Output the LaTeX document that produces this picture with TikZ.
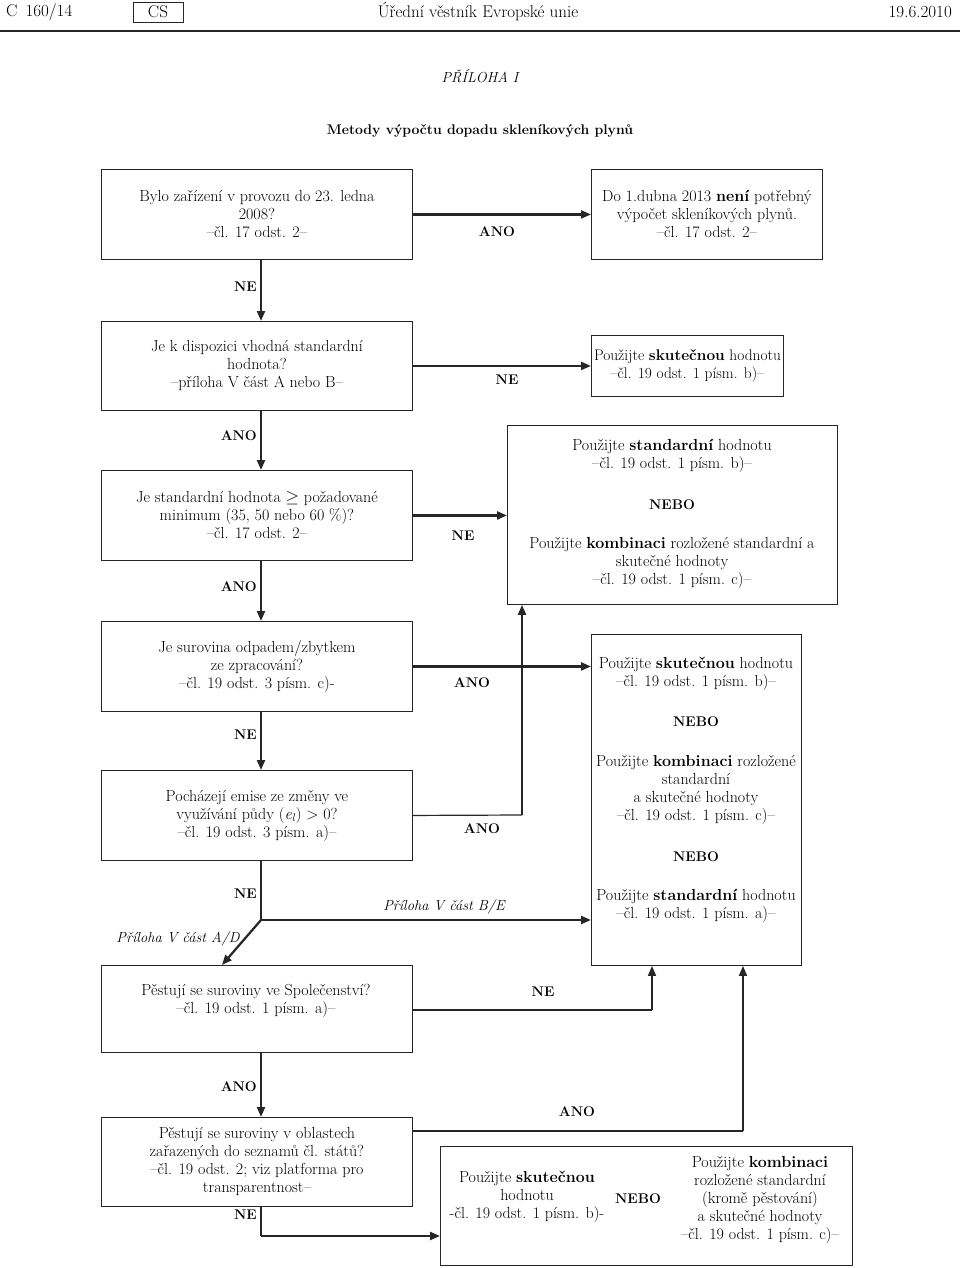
\documentclass[tikz,border=0pt]{standalone}
\usepackage{fontspec}
\usetikzlibrary{arrows.meta}
\newcommand{\boxfnt}{\fontsize{16}{18}\selectfont}
\newcommand{\smbfnt}{\fontsize{15.4}{18}\selectfont}
\newcommand{\lblfnt}{\fontsize{14}{16}\selectfont\bfseries}
\newcommand{\itfnt}{\fontsize{14.5}{16}\selectfont\itshape}
\newcommand{\hdrfnt}{\fontsize{17}{18}\selectfont}
\newcommand{\anxfnt}{\fontsize{14.5}{18}\selectfont\itshape}
\newcommand{\ttlfnt}{\fontsize{14}{18}\selectfont\bfseries}
\begin{document}
\begin{tikzpicture}[x=1pt,y=-1pt,
 box/.style={draw=black!85, line width=0.9pt, anchor=north west, inner sep=0pt, align=center, font=\boxfnt},
 txt/.style={align=center, font=\boxfnt, inner sep=0pt},
 lbl/.style={font=\lblfnt, inner sep=0pt},
 itl/.style={font=\itfnt, inner sep=0pt},
 main/.style={draw=black!85, line width=2.2pt, -{Triangle[length=10pt,width=8pt]}},
 thinl/.style={draw=black!85, line width=1.2pt},
 thinarr/.style={draw=black!85, line width=1.6pt, -{Triangle[length=10pt,width=8pt]}},
]
\useasboundingbox (0,0) rectangle (960,1268);
\fill[white] (0,0) rectangle (960,1268);

% header
\node[anchor=west, font=\hdrfnt, inner sep=0pt] (h1) at (6,12) {C\, 160/14};
\node[draw=black!85, line width=0.8pt, minimum width=50pt, minimum height=20pt, inner sep=0pt, font=\hdrfnt] (h2) at (158,12) {CS};
\node[font=\hdrfnt, inner sep=0pt] (h3) at (478,12) {Úřední věstník Evropské unie};
\node[anchor=east, font=\hdrfnt, inner sep=0pt] (h4) at (952,12) {19.6.2010};
\draw[line width=2pt, black!85] (0,31) -- (960,31);
\node[font=\anxfnt, inner sep=0pt] (t1) at (480,76) {PŘÍLOHA I};
\node[font=\ttlfnt, inner sep=0pt] (t2) at (480,131) {Metody výpočtu dopadu skleníkových plynů};

% boxes
\node[box, minimum width=311pt, minimum height=90pt] (b1) at (101,169) {Bylo zařízení v provozu do 23. ledna\\2008?\\–čl. 17 odst. 2–};
\node[box, minimum width=231pt, minimum height=90pt] (b2) at (591,169) {Do 1.dubna 2013 \textbf{není} potřebný\\výpočet skleníkových plynů.\\–čl. 17 odst. 2–};
\node[box, minimum width=311pt, minimum height=89pt] (b3) at (101,321) {Je k dispozici vhodná standardní\\hodnota?\\–příloha V část A nebo B–};
\node[box, font=\smbfnt, minimum width=192pt, minimum height=61pt] (b4) at (591,335) {Použijte \textbf{skutečnou} hodnotu\\–čl. 19 odst. 1 písm. b)–};
\node[box, minimum width=311pt, minimum height=90pt] (b5) at (101,470) {Je standardní hodnota $\geq$ požadované\\minimum (35, 50 nebo 60 \%)?\\–čl. 17 odst. 2–};
\node[box, minimum width=330pt, minimum height=179pt] (b6) at (507,425) {};
\node[txt] (b6a) at (672,456) {Použijte \textbf{standardní} hodnotu\\–čl. 19 odst. 1 písm. b)–};
\node[txt, font=\lblfnt] (b6b) at (672,505) {NEBO};
\node[txt] (b6c) at (672,563) {Použijte \textbf{kombinaci} rozložené standardní a\\skutečné hodnoty\\–čl. 19 odst. 1 písm. c)–};
\node[box, minimum width=311pt, minimum height=90pt] (b7) at (101,621) {Je surovina odpadem/zbytkem\\ze zpracování?\\–čl. 19 odst. 3 písm. c)-};
\node[box, minimum width=210pt, minimum height=331pt] (b8) at (591,634) {};
\node[txt] (b8a) at (696,674) {Použijte \textbf{skutečnou} hodnotu\\–čl. 19 odst. 1 písm. b)–};
\node[txt, font=\lblfnt] (b8b) at (696,722) {NEBO};
\node[txt] (b8c) at (696,790) {Použijte \textbf{kombinaci} rozložené\\standardní\\a skutečné hodnoty\\–čl. 19 odst. 1 písm. c)–};
\node[txt, font=\lblfnt] (b8d) at (696,857) {NEBO};
\node[txt] (b8e) at (696,906) {Použijte \textbf{standardní} hodnotu\\–čl. 19 odst. 1 písm. a)–};
\node[box, minimum width=311pt, minimum height=90pt] (b9) at (101,770) {Pocházejí emise ze změny ve\\využívání půdy (\textit{e}\textsubscript{\textit{l}}) > 0?\\–čl. 19 odst. 3 písm. a)–};
\node[box, minimum width=311pt, minimum height=87pt] (b10) at (101,965) {};
\node[txt] (b10t) at (256,1001) {Pěstují se suroviny ve Společenství?\\–čl. 19 odst. 1 písm. a)–};
\node[box, minimum width=311pt, minimum height=89pt] (b11) at (101,1117) {Pěstují se suroviny v oblastech\\zařazených do seznamů čl. států?\\–čl. 19 odst. 2; viz platforma pro\\transparentnost–};
\node[box, minimum width=412pt, minimum height=119pt] (b12) at (440,1146) {};
\node[txt] (b12a) at (527,1197) {Použijte \textbf{skutečnou}\\hodnotu\\-čl. 19 odst. 1 písm. b)-};
\node[txt, font=\lblfnt] (b12b) at (638,1199) {NEBO};
\node[txt] (b12c) at (760,1200) {Použijte \textbf{kombinaci}\\rozložené standardní\\(kromě pěstování)\\a skutečné hodnoty\\–čl. 19 odst. 1 písm. c)–};

% connectors
\coordinate (col) at (261,0);
\draw[main] (b1.east) -- (b2.west);
\draw[main] (b1.south -| col) -- (b3.north -| col);
\draw[main] (b3.east |- b4.west) -- (b4.west);
\draw[main] (b3.south -| col) -- (b5.north -| col);
\draw[main] (b5.east) -- (b5.east -| b6.west);
\draw[main] (b5.south -| col) -- (b7.north -| col);
\draw[main] (b7.east) -- (b7.east -| b8.west);
\draw[main] (b7.south -| col) -- (b9.north -| col);
\coordinate (u1) at (522,815);
\draw[thinl] (b9.east) -- (u1);
\draw[main] (u1) -- (u1 |- b6.south);
\coordinate (j) at (261,920);
\draw[thinl] (b9.south -| col) -- (j);
\draw[main] (j) -- (j -| b8.west);
\coordinate (ad) at (222,965);
\draw[main] (j) -- (ad);
\coordinate (u2) at (652,1010);
\draw[thinl] (b10.east |- u2) -- (u2);
\draw[thinarr] (u2) -- (u2 |- b8.south);
\draw[main] (b10.south -| col) -- (b11.north -| col);
\coordinate (u3) at (743,1131);
\draw[thinl] (b11.east |- u3) -- (u3);
\draw[thinarr] (u3) -- (u3 |- b8.south);
\coordinate (u4) at (261,1236);
\draw[thinl] (b11.south -| col) -- (u4);
\draw[main] (u4) -- (u4 -| b12.west);

% labels
\node[lbl] (l1) at (497,232) {ANO};
\node[lbl, anchor=east] (l2) at (257,287) {NE};
\node[lbl] (l3) at (507,380) {NE};
\node[lbl, anchor=east] (l4) at (257,436) {ANO};
\node[lbl] (l5) at (463,536) {NE};
\node[lbl, anchor=east] (l6) at (257,587) {ANO};
\node[lbl] (l7) at (472,683) {ANO};
\node[lbl, anchor=east] (l8) at (257,735) {NE};
\node[lbl] (l9) at (482,829) {ANO};
\node[lbl, anchor=east] (l10) at (257,894) {NE};
\node[itl] (l11) at (444,907) {Příloha V část B/E};
\node[itl] (l12) at (178,939) {Příloha V část A/D};
\node[lbl] (l13) at (543,992) {NE};
\node[lbl, anchor=east] (l14) at (257,1087) {ANO};
\node[lbl] (l15) at (577,1112) {ANO};
\node[lbl, anchor=east] (l16) at (257,1215) {NE};
\end{tikzpicture}
\end{document}
